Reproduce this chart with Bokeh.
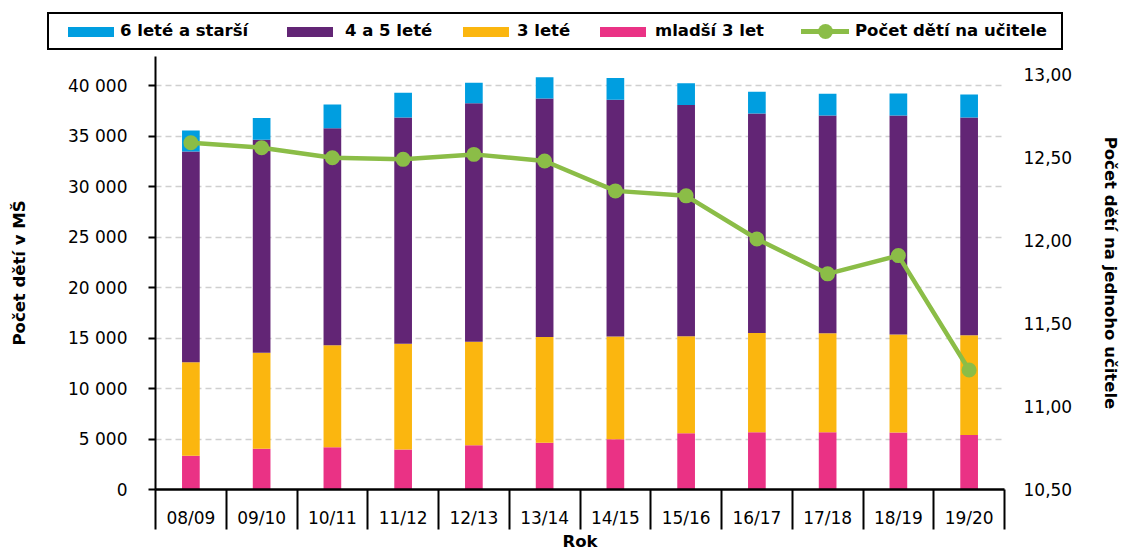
from bokeh.plotting import figure
from bokeh.models import Range1d, LinearAxis, FixedTicker, ColumnDataSource, Div
from bokeh.layouts import column
from bokeh.embed import file_html
from bokeh.resources import INLINE

# ---- data ----
roky = ["08/09", "09/10", "10/11", "11/12", "12/13", "13/14",
        "14/15", "15/16", "16/17", "17/18", "18/19", "19/20"]
mladsi_3 = [3350, 4030, 4190, 3960, 4390, 4620, 4980, 5575, 5670, 5670, 5640, 5410]
tri_lete = [9250, 9530, 10100, 10490, 10260, 10500, 10170, 9605, 9840, 9810, 9710, 9870]
ctyr_pet_lete = [20900, 21090, 21510, 22410, 23630, 23620, 23460, 22910, 21750, 21580, 21710, 21580]
sest_a_starsi = [2070, 2150, 2350, 2440, 2010, 2110, 2150, 2170, 2140, 2140, 2180, 2280]
deti_na_ucitele = [12.59, 12.56, 12.50, 12.49, 12.52, 12.48, 12.30, 12.27, 12.01, 11.80, 11.91, 11.22]

left_ticks = [0, 5000, 10000, 15000, 20000, 25000, 30000, 35000, 40000]
left_labels = ["0", "5 000", "10 000", "15 000", "20 000", "25 000", "30 000", "35 000", "40 000"]
right_ticks = [10.5, 11.0, 11.5, 12.0, 12.5, 13.0]
right_labels = ["10,50", "11,00", "11,50", "12,00", "12,50", "13,00"]
legend_labels = ["6 leté a starší", "4 a 5 leté", "3 leté", "mladší 3 let", "Počet dětí na učitele"]

C_PINK = "#EA3285"
C_YELLOW = "#FBB60F"
C_PURPLE = "#622575"
C_BLUE = "#009EE0"
C_GREEN = "#8BBD47"

FONT = "DejaVu Sans"
W = 1123
LEG_H = 56

n = len(roky)
xs = [i + 0.5 for i in range(n)]
src = ColumnDataSource(dict(x=xs, mladsi=mladsi_3, tri=tri_lete, ctyr=ctyr_pet_lete,
                            sest=sest_a_starsi, ratio=deti_na_ucitele))

# ---------------- main chart ----------------
p = figure(width=W, height=553 - LEG_H, x_range=Range1d(0, n), y_range=Range1d(0, 42900),
           output_backend="svg", toolbar_location=None,
           min_border_left=155, min_border_right=117, min_border_top=0, min_border_bottom=63)
p.extra_y_ranges = {"right": Range1d(10.5, 13.11)}
p.outline_line_color = None
p.background_fill_color = "white"

p.vbar_stack(["mladsi", "tri", "ctyr", "sest"], x="x", width=0.25,
             color=[C_PINK, C_YELLOW, C_PURPLE, C_BLUE], line_color=None, source=src)
p.line("x", "ratio", source=src, y_range_name="right", line_width=4.5, color=C_GREEN)
p.scatter("x", "ratio", source=src, y_range_name="right", size=15,
          fill_color=C_GREEN, line_color=None)

# grid
p.xgrid.visible = False
p.ygrid.grid_line_color = "#CFCFCF"
p.ygrid.grid_line_dash = "6 4"
p.ygrid.grid_line_width = 1.3

# x axis: labels at category centres, separators at category boundaries
xa = p.xaxis[0]
xa.ticker = FixedTicker(ticks=xs, minor_ticks=list(range(n + 1)))
xa.major_label_overrides = {xv: lab for xv, lab in zip(xs, roky)}
xa.major_tick_out = 0
xa.major_tick_in = 0
xa.minor_tick_out = 40
xa.minor_tick_in = 0
xa.minor_tick_line_color = "black"
xa.minor_tick_line_width = 2
xa.axis_line_color = "black"
xa.axis_line_width = 2.5
xa.major_label_standoff = -22
xa.major_label_text_font = FONT
xa.major_label_text_font_size = "17px"
xa.major_label_text_color = "black"
xa.axis_label = "Rok"
xa.axis_label_text_font = FONT
xa.axis_label_text_font_style = "bold"
xa.axis_label_text_font_size = "16.5px"
xa.axis_label_text_color = "black"
xa.axis_label_standoff = 1

# left axis
ya = p.yaxis[0]
ya.ticker = FixedTicker(ticks=left_ticks)
ya.major_label_overrides = {v: lab for v, lab in zip(left_ticks, left_labels)}
ya.major_tick_out = 7
ya.major_tick_in = 0
ya.major_tick_line_width = 2
ya.major_tick_line_color = "black"
ya.minor_tick_line_color = None
ya.axis_line_color = "black"
ya.axis_line_width = 2
ya.major_label_standoff = 21
ya.major_label_text_font = FONT
ya.major_label_text_font_size = "17px"
ya.major_label_text_color = "black"
ya.axis_label = "Počet dětí v MŠ"
ya.axis_label_text_font = FONT
ya.axis_label_text_font_style = "bold"
ya.axis_label_text_font_size = "16.5px"
ya.axis_label_text_color = "black"
ya.axis_label_standoff = 36

# right axis
ra = LinearAxis(y_range_name="right", ticker=FixedTicker(ticks=right_ticks))
ra.major_label_overrides = {v: lab for v, lab in zip(right_ticks, right_labels)}
ra.axis_line_color = None
ra.major_tick_line_color = None
ra.minor_tick_line_color = None
ra.major_tick_out = 0
ra.major_tick_in = 0
ra.major_label_standoff = 19
ra.major_label_text_font = FONT
ra.major_label_text_font_size = "17px"
ra.major_label_text_color = "black"
ra.axis_label = "Počet dětí na jednoho učitele"
ra.axis_label_orientation = "vertical"
ra.axis_label_text_font = FONT
ra.axis_label_text_font_style = "bold"
ra.axis_label_text_font_size = "16.5px"
ra.axis_label_text_color = "black"
ra.axis_label_standoff = 26
p.add_layout(ra, "right")

# ---------------- legend strip (HTML) above the chart ----------------
swatch_colors = [C_BLUE, C_PURPLE, C_YELLOW, C_PINK]
swatch_left = [68, 287, 463, 600]
line_swatch_left = 801
text_left = [120, 345, 517, 655, 855]

parts = ['<div style="position:relative;width:%dpx;height:%dpx;font-family:\'DejaVu Sans\',sans-serif;'
         'font-weight:bold;font-size:16.5px;color:#000;">' % (W, LEG_H)]
parts.append('<div style="position:absolute;left:47px;top:12px;width:1016px;height:38px;'
             'box-sizing:border-box;border:2px solid #000;background:#fff;"></div>')
for c, xl in zip(swatch_colors, swatch_left):
    parts.append('<div style="position:absolute;left:%dpx;top:27px;width:46px;height:10px;'
                 'background:%s;"></div>' % (xl, c))
parts.append('<div style="position:absolute;left:%dpx;top:29px;width:48px;height:5px;'
             'background:%s;"></div>' % (line_swatch_left, C_GREEN))
parts.append('<div style="position:absolute;left:%dpx;top:24px;width:15px;height:15px;'
             'border-radius:50%%;background:%s;"></div>' % (line_swatch_left + 17, C_GREEN))
for lab, xl in zip(legend_labels, text_left):
    parts.append('<div style="position:absolute;left:%dpx;top:12px;height:38px;line-height:38px;'
                 'white-space:nowrap;">%s</div>' % (xl, lab))
parts.append('</div>')
legend_div = Div(text="".join(parts), width=W, height=LEG_H, margin=0)

layout = column(legend_div, p, spacing=0)
open("out.html", "w").write(file_html(layout, INLINE))
